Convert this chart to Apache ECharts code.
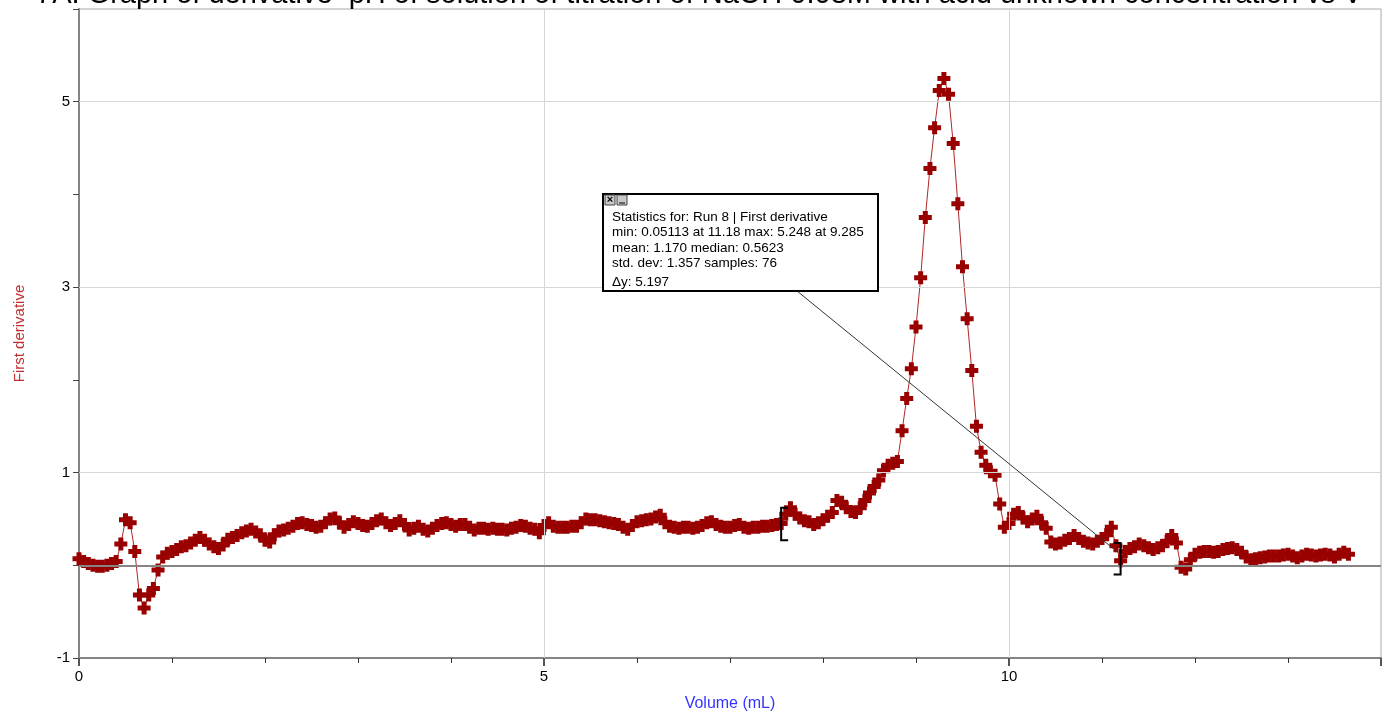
<!DOCTYPE html>
<html><head><meta charset="utf-8">
<script src="https://cdn.jsdelivr.net/npm/echarts@6/dist/echarts.min.js"></script>
<style>html,body{margin:0;padding:0;background:#fff}#c{width:1389px;height:717px}</style>
</head><body><div id="c"></div>
<script>
const titleText = "7A: Graph of derivative  pH of solution of titration of NaOH 0.08M with acid unknown concentration vs V";
const xAxisTitle = "Volume (mL)";
const yAxisTitle = "First derivative";
const xTickLabels = [0, 5, 10];
const yTickLabels = [-1, 1, 3, 5];
const volumes = [
0,0.05,0.1,0.15,0.2,0.25,0.3,0.35,0.4,0.45,
0.5,0.55,0.6,0.65,0.7,0.75,0.8,0.85,0.9,0.95,
1,1.05,1.1,1.15,1.2,1.25,1.3,1.35,1.4,1.45,
1.5,1.55,1.6,1.65,1.7,1.75,1.8,1.85,1.9,1.95,
2,2.05,2.1,2.15,2.2,2.25,2.3,2.35,2.4,2.45,
2.5,2.55,2.6,2.65,2.7,2.75,2.8,2.85,2.9,2.95,
3,3.05,3.1,3.15,3.2,3.25,3.3,3.35,3.4,3.45,
3.5,3.55,3.6,3.65,3.7,3.75,3.8,3.85,3.9,3.95,
4,4.05,4.1,4.15,4.2,4.25,4.3,4.35,4.4,4.45,
4.5,4.55,4.6,4.65,4.7,4.75,4.8,4.85,4.9,4.95,
5,5.05,5.1,5.15,5.2,5.25,5.3,5.35,5.4,5.45,
5.5,5.55,5.6,5.65,5.7,5.75,5.8,5.85,5.9,5.95,
6,6.05,6.1,6.15,6.2,6.25,6.3,6.35,6.4,6.45,
6.5,6.55,6.6,6.65,6.7,6.75,6.8,6.85,6.9,6.95,
7,7.05,7.1,7.15,7.2,7.25,7.3,7.35,7.4,7.45,
7.5,7.55,7.6,7.65,7.7,7.75,7.8,7.85,7.9,7.95,
8,8.05,8.1,8.15,8.2,8.25,8.3,8.35,8.4,8.45,
8.5,8.55,8.6,8.65,8.7,8.75,8.8,8.85,8.9,8.95,
9,9.05,9.1,9.15,9.2,9.25,9.3,9.35,9.4,9.45,
9.5,9.55,9.6,9.65,9.7,9.75,9.8,9.85,9.9,9.95,
10,10.05,10.1,10.15,10.2,10.25,10.3,10.35,10.4,10.45,
10.5,10.55,10.6,10.65,10.7,10.75,10.8,10.85,10.9,10.95,
11,11.05,11.1,11.15,11.2,11.25,11.3,11.35,11.4,11.45,
11.5,11.55,11.6,11.65,11.7,11.75,11.8,11.85,11.9,11.95,
12,12.05,12.1,12.15,12.2,12.25,12.3,12.35,12.4,12.45,
12.5,12.55,12.6,12.65,12.7,12.75,12.8,12.85,12.9,12.95,
13,13.05,13.1,13.15,13.2,13.25,13.3,13.35,13.4,13.45,
13.5,13.55,13.6,13.65
];
const firstDerivative = [
0.07,0.04,0.02,0.00,-0.01,-0.01,0.00,0.02,0.04,0.23,
0.49,0.46,0.15,-0.32,-0.46,-0.32,-0.25,-0.05,0.09,0.13,
0.15,0.17,0.20,0.21,0.24,0.27,0.30,0.27,0.23,0.20,
0.18,0.22,0.28,0.30,0.32,0.35,0.37,0.39,0.36,0.33,
0.27,0.25,0.33,0.37,0.38,0.40,0.42,0.45,0.46,0.44,
0.43,0.41,0.42,0.46,0.50,0.51,0.46,0.41,0.44,0.47,
0.45,0.43,0.42,0.45,0.48,0.50,0.46,0.43,0.45,0.48,
0.44,0.38,0.40,0.42,0.39,0.37,0.40,0.43,0.45,0.46,
0.44,0.42,0.44,0.44,0.41,0.38,0.40,0.40,0.39,0.40,
0.39,0.39,0.38,0.40,0.41,0.43,0.42,0.40,0.39,0.35,
0.43,0.46,0.42,0.41,0.41,0.41,0.42,0.42,0.46,0.50,
0.49,0.49,0.48,0.47,0.46,0.45,0.44,0.41,0.39,0.43,
0.47,0.48,0.49,0.50,0.52,0.54,0.46,0.42,0.41,0.40,
0.41,0.41,0.40,0.41,0.43,0.46,0.47,0.44,0.42,0.41,
0.41,0.43,0.44,0.41,0.40,0.41,0.41,0.42,0.42,0.43,
0.44,0.45,0.55,0.62,0.55,0.51,0.48,0.47,0.44,0.46,
0.49,0.53,0.57,0.70,0.68,0.62,0.58,0.57,0.62,0.70,
0.78,0.85,0.92,1.02,1.08,1.10,1.12,1.45,1.80,2.12,
2.57,3.10,3.75,4.28,4.72,5.12,5.25,5.08,4.55,3.90,
3.22,2.66,2.10,1.50,1.22,1.08,1.01,0.97,0.66,0.41,
0.45,0.55,0.57,0.51,0.47,0.50,0.53,0.46,0.40,0.25,
0.23,0.24,0.27,0.29,0.32,0.29,0.26,0.24,0.23,0.26,
0.29,0.33,0.41,0.21,0.05,0.15,0.18,0.20,0.23,0.21,
0.19,0.17,0.19,0.21,0.26,0.32,0.24,-0.02,-0.04,0.06,
0.12,0.14,0.15,0.15,0.14,0.15,0.17,0.18,0.19,0.17,
0.14,0.09,0.06,0.07,0.08,0.09,0.10,0.10,0.10,0.11,
0.12,0.10,0.08,0.10,0.12,0.11,0.10,0.11,0.12,0.11,
0.09,0.12,0.14,0.12
];
const statsLines = [
"Statistics for: Run 8 | First derivative",
"min: 0.05113 at 11.18 max: 5.248 at 9.285",
"mean: 1.170 median: 0.5623",
"std. dev: 1.357 samples: 76",
"\u0394y: 5.197"
];
const gridLinesY = [1, 3, 5];
const gridLinesX = [5, 10];
const selectionStart = [7.55, 0.62, 0.27];   // x, top y, bottom y of "[" bracket
const selectionEnd = [11.2, 0.24, -0.1];     // x, top y, bottom y of "]" bracket
const connectorEnd = [11.17, 0.14];

const FONT = '"Liberation Sans", Arial, sans-serif';
const chart = echarts.init(document.getElementById('c'), null, {renderer: 'canvas'});
const points = volumes.map((v, i) => [v, firstDerivative[i]]);
const plus = 'path://M4,0H9V4H13V9H9V13H4V9H0V4H4Z';

const markData = gridLinesY.map(v => ({yAxis: v, lineStyle: {color: '#d6d6d6', width: 1, type: 'solid'}}))
  .concat(gridLinesX.map(v => ({xAxis: v, lineStyle: {color: '#d6d6d6', width: 1, type: 'solid'}})))
  .concat([{yAxis: 0, lineStyle: {color: '#858585', width: 2, type: 'solid'}}]);

chart.setOption({
  animation: false,
  grid: {left: 79, right: 8, top: 9, bottom: 59, show: true, borderColor: '#a8a8a8', borderWidth: 1},
  xAxis: [{
    type: 'value', min: 0, max: 14, interval: 1, position: 'bottom',
    axisLine: {onZero: false, lineStyle: {color: '#858585', width: 2}},
    axisTick: {show: true, length: 5, lineStyle: {color: '#333', width: 1}},
    axisLabel: {formatter: v => xTickLabels.includes(v) ? String(v) : '', color: '#000', fontSize: 15, fontFamily: FONT, margin: 11},
    splitLine: {show: false},
    name: xAxisTitle, nameLocation: 'middle', nameGap: 38,
    nameTextStyle: {color: '#3333ff', fontSize: 16, fontFamily: FONT}
  }, {
    type: 'value', min: 0, max: 14, interval: 5, position: 'bottom',
    axisLine: {show: false, onZero: false},
    axisTick: {show: true, length: 8, lineStyle: {color: '#555', width: 2}},
    axisLabel: {show: false}, splitLine: {show: false}
  }],
  yAxis: {
    type: 'value', min: -1, max: 6, interval: 1,
    axisLine: {onZero: false, lineStyle: {color: '#858585', width: 2}},
    axisTick: {show: true, length: 6, lineStyle: {color: '#444', width: 1}},
    axisLabel: {formatter: v => yTickLabels.includes(v) ? String(v) : '', color: '#000', fontSize: 15, fontFamily: FONT, margin: 9},
    splitLine: {show: false},
    name: yAxisTitle, nameLocation: 'middle', nameGap: 52,
    nameTextStyle: {color: '#c03030', fontSize: 15, fontFamily: FONT}
  },
  series: [{
    type: 'line', data: [], z: 1, silent: true,
    markLine: {silent: true, symbol: ['none', 'none'], label: {show: false}, animation: false, data: markData}
  }, {
    type: 'line', data: points, z: 3, symbol: plus, symbolSize: 13, symbolKeepAspect: true,
    showAllSymbol: true,
    itemStyle: {color: '#990000'},
    lineStyle: {color: '#b02828', width: 1}
  }]
});

const P = (x, y) => chart.convertToPixel({gridIndex: 0}, [x, y]);
const s0 = P(selectionStart[0], selectionStart[1]), s1 = P(selectionStart[0], selectionStart[2]);
const e0 = P(selectionEnd[0], selectionEnd[1]), e1 = P(selectionEnd[0], selectionEnd[2]);
const ce = P(connectorEnd[0], connectorEnd[1]);
const box = {x: 603, y: 194, w: 275, h: 97};
const g = [];
g.push({type: 'text', left: 36, top: -20, style: {text: titleText, font: '29px ' + FONT, fill: '#000'}});
g.push({type: 'line', shape: {x1: 797, y1: box.y + box.h, x2: ce[0], y2: ce[1]}, style: {stroke: '#333', lineWidth: 1}, z: 5});
g.push({type: 'rect', shape: {x: box.x, y: box.y, width: box.w, height: box.h}, style: {fill: '#fff', stroke: '#000', lineWidth: 2}, z: 10});
g.push({type: 'rect', shape: {x: box.x + 2, y: box.y + 1, width: 10, height: 10}, style: {fill: '#c8c8c8', stroke: '#444', lineWidth: 1}, z: 11});
g.push({type: 'text', style: {x: box.x + 7, y: box.y + 6, text: '\u00d7', font: 'bold 11px ' + FONT, fill: '#000', align: 'center', verticalAlign: 'middle'}, z: 12});
g.push({type: 'rect', shape: {x: box.x + 14, y: box.y + 1, width: 10, height: 10}, style: {fill: '#c8c8c8', stroke: '#444', lineWidth: 1}, z: 11});
g.push({type: 'line', shape: {x1: box.x + 16, y1: box.y + 9, x2: box.x + 22, y2: box.y + 9}, style: {stroke: '#000', lineWidth: 1}, z: 12});
const lineYs = [23, 38, 54, 69, 88];
statsLines.forEach((t, i) => {
  g.push({type: 'text', style: {x: box.x + 9, y: box.y + lineYs[i], text: t, font: '13.5px ' + FONT, fill: '#000', verticalAlign: 'middle'}, z: 12});
});
// brackets
g.push({type: 'polyline', shape: {points: [[s0[0] + 7, s0[1]], [s0[0], s0[1]], [s0[0], s1[1]], [s0[0] + 7, s1[1]]]}, style: {stroke: '#000', lineWidth: 2, fill: null}, z: 6});
g.push({type: 'polyline', shape: {points: [[e0[0] - 7, e0[1]], [e0[0], e0[1]], [e0[0], e1[1]], [e0[0] - 7, e1[1]]]}, style: {stroke: '#000', lineWidth: 2, fill: null}, z: 6});
chart.setOption({graphic: g});
</script></body></html>
